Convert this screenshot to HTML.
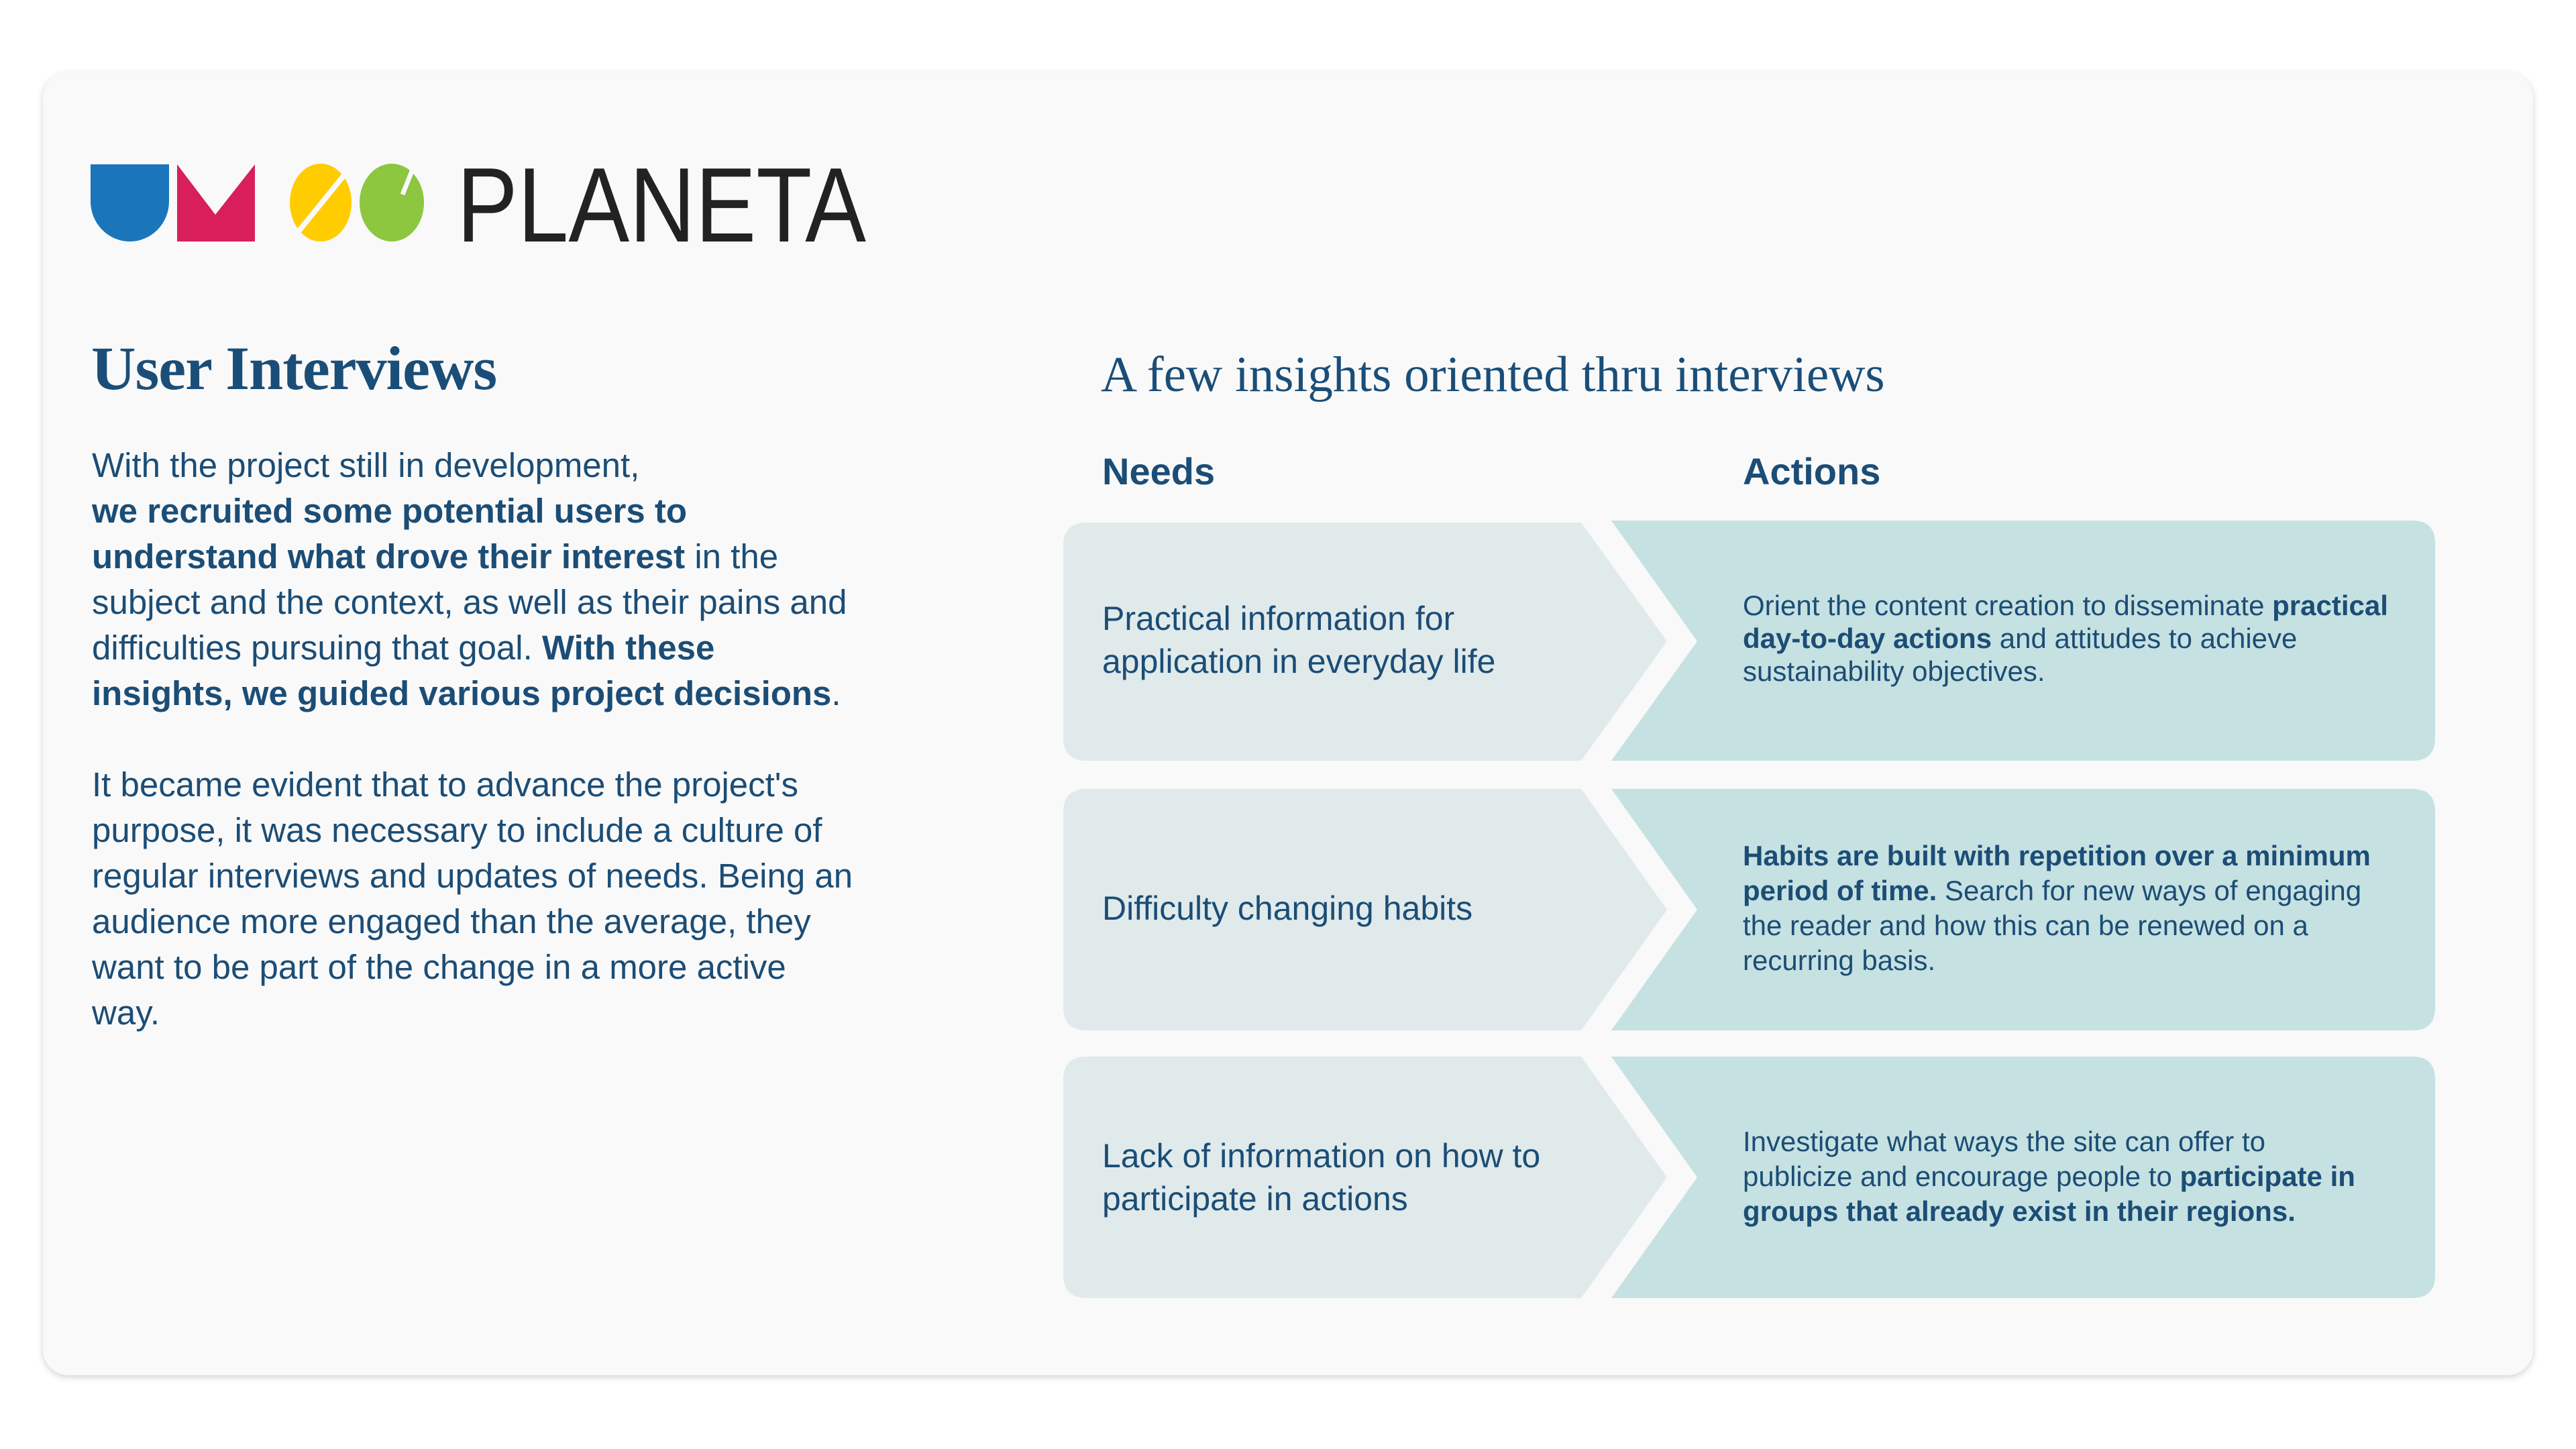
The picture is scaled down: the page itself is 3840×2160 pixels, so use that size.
<!DOCTYPE html>
<html><head><meta charset="utf-8"><style>
html,body{margin:0;padding:0;background:#fff;}
body{width:3840px;height:2160px;position:relative;overflow:hidden;font-family:"Liberation Sans",sans-serif;}
.card{position:absolute;left:64px;top:108px;width:3712px;height:1942px;background:#f9f9f9;border-radius:38px;box-shadow:0 3px 10px rgba(0,0,0,0.18);}
.t{position:absolute;white-space:nowrap;color:#1b4d76;}
b{font-weight:700;}
</style></head><body>
<div class="card"></div>
<svg style="position:absolute;left:0;top:0" width="3840" height="2160">
  <path d="M135 245 H252 V300 A58.5 60 0 0 1 135 300 Z" fill="#1b75bb"/>
  <polygon points="264,245 321,320 380,245 380,360 264,360" fill="#d81e5b"/>
  <ellipse cx="478" cy="302" rx="46" ry="58" fill="#ffcc00"/>
  <line x1="522" y1="250" x2="436" y2="356" stroke="#f9f9f9" stroke-width="8"/>
  <ellipse cx="584" cy="302" rx="48" ry="58" fill="#8dc63f"/>
  <line x1="620" y1="240" x2="600" y2="290" stroke="#f9f9f9" stroke-width="7"/>
  <text x="681" y="360" font-family="Liberation Sans" font-size="158" textLength="610" lengthAdjust="spacingAndGlyphs" fill="#222">PLANETA</text>

  <g>
    <path d="M1620 779 H2357 L2485 956 L2357 1134 H1620 Q1585 1134 1585 1099 V814 Q1585 779 1620 779 Z" fill="#e0eaeb"/>
    <path d="M2402 776 H3596 Q3630 776 3630 810 V1100 Q3630 1134 3596 1134 H2402 L2530 956 Z" fill="#c6e1e1"/>
    <path d="M1620 1176 H2357 L2485 1356 L2357 1536 H1620 Q1585 1536 1585 1501 V1211 Q1585 1176 1620 1176 Z" fill="#e0eaeb"/>
    <path d="M2402 1176 H3596 Q3630 1176 3630 1210 V1502 Q3630 1536 3596 1536 H2402 L2530 1356 Z" fill="#c6e1e1"/>
    <path d="M1620 1575 H2357 L2485 1755 L2357 1935 H1620 Q1585 1935 1585 1900 V1610 Q1585 1575 1620 1575 Z" fill="#e0eaeb"/>
    <path d="M2402 1575 H3596 Q3630 1575 3630 1609 V1901 Q3630 1935 3596 1935 H2402 L2530 1755 Z" fill="#c6e1e1"/>
  </g>
</svg>

<div class="t" style="left:136px;top:496px;font-family:'Liberation Serif',serif;font-weight:700;font-size:92px;color:#1a4e78;letter-spacing:-1px;">User Interviews</div>

<div class="t" style="left:137px;top:660px;font-size:51px;line-height:68px;">
With the project still in development,<br>
<b>we recruited some potential users to</b><br>
<b>understand what drove their interest</b> in the<br>
subject and the context, as well as their pains and<br>
difficulties pursuing that goal. <b>With these</b><br>
<b>insights, we guided various project decisions</b>.<br>
<br>
It became evident that to advance the project's<br>
purpose, it was necessary to include a culture of<br>
regular interviews and updates of needs. Being an<br>
audience more engaged than the average, they<br>
want to be part of the change in a more active<br>
way.
</div>

<div class="t" style="left:1641px;top:516px;font-family:'Liberation Serif',serif;font-size:75px;color:#1a4e78;">A few insights oriented thru interviews</div>

<div class="t" style="left:1643px;top:670px;font-size:56px;font-weight:700;">Needs</div>
<div class="t" style="left:2598px;top:670px;font-size:56px;font-weight:700;">Actions</div>

<div class="t" style="left:1643px;top:890px;font-size:50px;line-height:64px;">Practical information for<br>application in everyday life</div>
<div class="t" style="left:1643px;top:1322px;font-size:50px;line-height:64px;">Difficulty changing habits</div>
<div class="t" style="left:1643px;top:1691px;font-size:50px;line-height:64px;">Lack of information on how to<br>participate in actions</div>

<div class="t" style="left:2598px;top:878px;font-size:42px;line-height:49px;">Orient the content creation to disseminate <b>practical</b><br><b>day-to-day actions</b> and attitudes to achieve<br>sustainability objectives.</div>
<div class="t" style="left:2598px;top:1250px;font-size:42px;line-height:52px;"><b>Habits are built with repetition over a minimum</b><br><b>period of time.</b> Search for new ways of engaging<br>the reader and how this can be renewed on a<br>recurring basis.</div>
<div class="t" style="left:2598px;top:1676px;font-size:42px;line-height:52px;">Investigate what ways the site can offer to<br>publicize and encourage people to <b>participate in</b><br><b>groups that already exist in their regions.</b></div>
</body></html>
